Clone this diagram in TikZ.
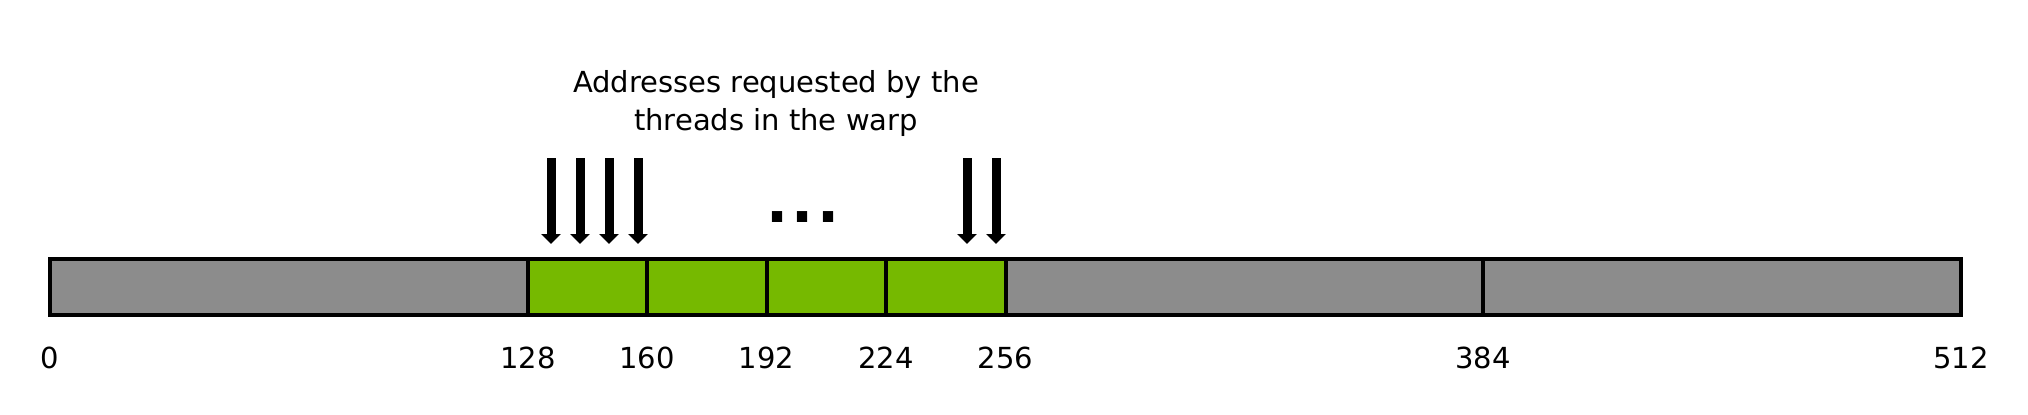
\documentclass[tikz,border=0pt]{standalone}
\usepackage{fontspec}
\setmainfont{DejaVu Sans}
\usetikzlibrary{arrows.meta}
\definecolor{nvgreen}{HTML}{76B900}
\definecolor{memgray}{HTML}{8C8C8C}
\begin{document}
\begin{tikzpicture}[x=0.5pt,y=-0.5pt,
  segline/.style={draw=black,line width=2pt},
  lbl/.style={font=\fontsize{14.5}{19}\selectfont, anchor=base, inner sep=0pt},
  title/.style={font=\fontsize{14.5}{19}\selectfont, anchor=base, inner sep=0pt, align=center},
  req/.style={line width=4.5pt, -{Triangle[width=9.5pt,length=5pt]}},
  dots/.style={font=\fontsize{29}{30}\bfseries\selectfont, anchor=base, inner sep=0pt}]
\useasboundingbox (0,0) rectangle (2028,414);
% segments
\fill[memgray] (50,259) rectangle (527.8,315);
\fill[nvgreen] (527.8,259) rectangle (1005.5,315);
\fill[memgray] (1005.5,259) rectangle (1961,315);
\foreach \x in {527.8,647.2,766.6,886,1005.5,1483}
  \draw[segline] (\x,259) -- (\x,315);
\draw[segline] (50,259) rectangle (1961,315);
% labels
\node[lbl] (l0) at (50,368) {0};
\node[lbl] (l128) at (527.8,368) {128};
\node[lbl] (l160) at (647.2,368) {160};
\node[lbl] (l192) at (766.6,368) {192};
\node[lbl] (l224) at (886,368) {224};
\node[lbl] (l256) at (1005.5,368) {256};
\node[lbl] (l384) at (1483,368) {384};
\node[lbl] (l512) at (1961,368) {512};
% title
\node[title] (t) at (776,130) {Addresses requested by the\\threads in the warp};
% arrows
\foreach \i/\x in {1/551,2/580,3/609,4/638,5/967,6/996}{
  \coordinate (s\i) at (\x,158);
  \coordinate (e\i) at (\x,244);
  \draw[req] (s\i) -- (e\i);
}
\node[dots] (d) at (803,222) {.\kern1.6pt.\kern1.6pt.};
\end{tikzpicture}
\end{document}
